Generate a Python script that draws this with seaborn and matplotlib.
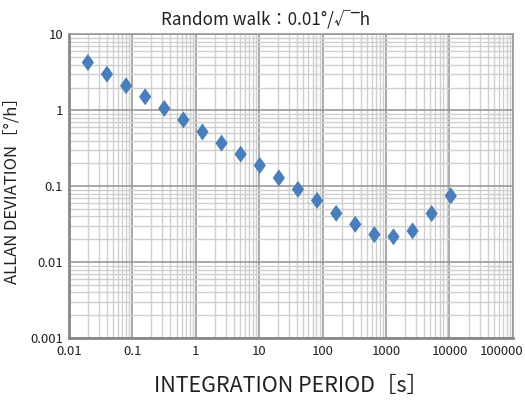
import numpy as np
import pandas as pd
import matplotlib
matplotlib.use("Agg")
import matplotlib.pyplot as plt
import matplotlib.transforms as mtrans
import seaborn as sns
from matplotlib.ticker import LogLocator, FixedLocator, FixedFormatter, NullFormatter

# ---- data ----
periods = [0.02, 0.04, 0.08, 0.16, 0.32, 0.64, 1.28, 2.56, 5.12, 10.24,
           20.48, 40.96, 81.92, 163.84, 327.68, 655.36, 1310.72, 2621.44,
           5242.88, 10485.76]
deviation = [4.28, 3.0, 2.11, 1.51, 1.06, 0.75, 0.52, 0.37, 0.265, 0.188,
             0.129, 0.091, 0.065, 0.044, 0.0315, 0.0231, 0.0216, 0.0258,
             0.0437, 0.0748]
xticks = [0.01, 0.1, 1, 10, 100, 1000, 10000, 100000]
xticklabels = ["0.01", "0.1", "1", "10", "100", "1000", "10000", "100000"]
yticks = [0.001, 0.01, 0.1, 1, 10]
yticklabels = ["0.001", "0.01", "0.1", "1", "10"]
title = "Random walk：0.01°/√‾h"
xlabel = "INTEGRATION PERIOD［s］"
ylabel = "ALLAN DEVIATION［°/h］"

df = pd.DataFrame({"period": periods, "dev": deviation})

sns.set_theme(style="white")
plt.rcParams['font.family'] = ['Noto Sans CJK JP', 'DejaVu Sans']

fig = plt.figure(figsize=(5.25, 4.01), dpi=100)
ax = fig.add_axes([0.131, 0.157, 0.846, 0.757])

diamond = [(-0.72, 0), (0, 1), (0.72, 0), (0, -1), (-0.72, 0)]
sns.scatterplot(data=df, x="period", y="dev", ax=ax, marker=diamond,
                s=150, color="#4a7ebb", edgecolor="none", zorder=5)

ax.set_xscale("log")
ax.set_yscale("log")
ax.set_xlim(0.01, 100000)
ax.set_ylim(0.001, 10)

ax.xaxis.set_major_locator(FixedLocator(xticks))
ax.xaxis.set_major_formatter(FixedFormatter(xticklabels))
ax.yaxis.set_major_locator(FixedLocator(yticks))
ax.yaxis.set_major_formatter(FixedFormatter(yticklabels))
ax.xaxis.set_minor_locator(LogLocator(base=10, subs=np.arange(2, 10), numticks=20))
ax.yaxis.set_minor_locator(LogLocator(base=10, subs=np.arange(2, 10), numticks=20))
ax.xaxis.set_minor_formatter(NullFormatter())
ax.yaxis.set_minor_formatter(NullFormatter())

ax.grid(True, which="minor", color="#cfcfcf", linewidth=1.0, zorder=0)
ax.grid(True, which="major", color="#9a9a9a", linewidth=1.2, zorder=1)
ax.set_axisbelow(True)

for side in ["top", "right"]:
    ax.spines[side].set_color("#999999")
    ax.spines[side].set_linewidth(1.2)
for side in ["left", "bottom"]:
    ax.spines[side].set_color("#888888")
    ax.spines[side].set_linewidth(2.0)

ax.tick_params(axis="both", which="both", length=0, labelsize=9.5,
               labelcolor="#222222", pad=5)
ax.tick_params(axis="y", pad=4)

fig.canvas.draw()
last = ax.get_xticklabels()[-1]
last.set_ha("right")
last.set_transform(last.get_transform() +
                   mtrans.ScaledTranslation(10 / 100, 0, fig.dpi_scale_trans))

fig.suptitle(title, x=0.505, y=0.975, fontsize=12.3, color="#222222")
ax.set_xlabel(xlabel, fontsize=15.5, color="#222222", labelpad=12)
ax.set_ylabel(ylabel, fontsize=12, color="#222222")
ax.yaxis.set_label_coords(-0.108, 0.5)

fig.savefig("out.png", dpi=100)
